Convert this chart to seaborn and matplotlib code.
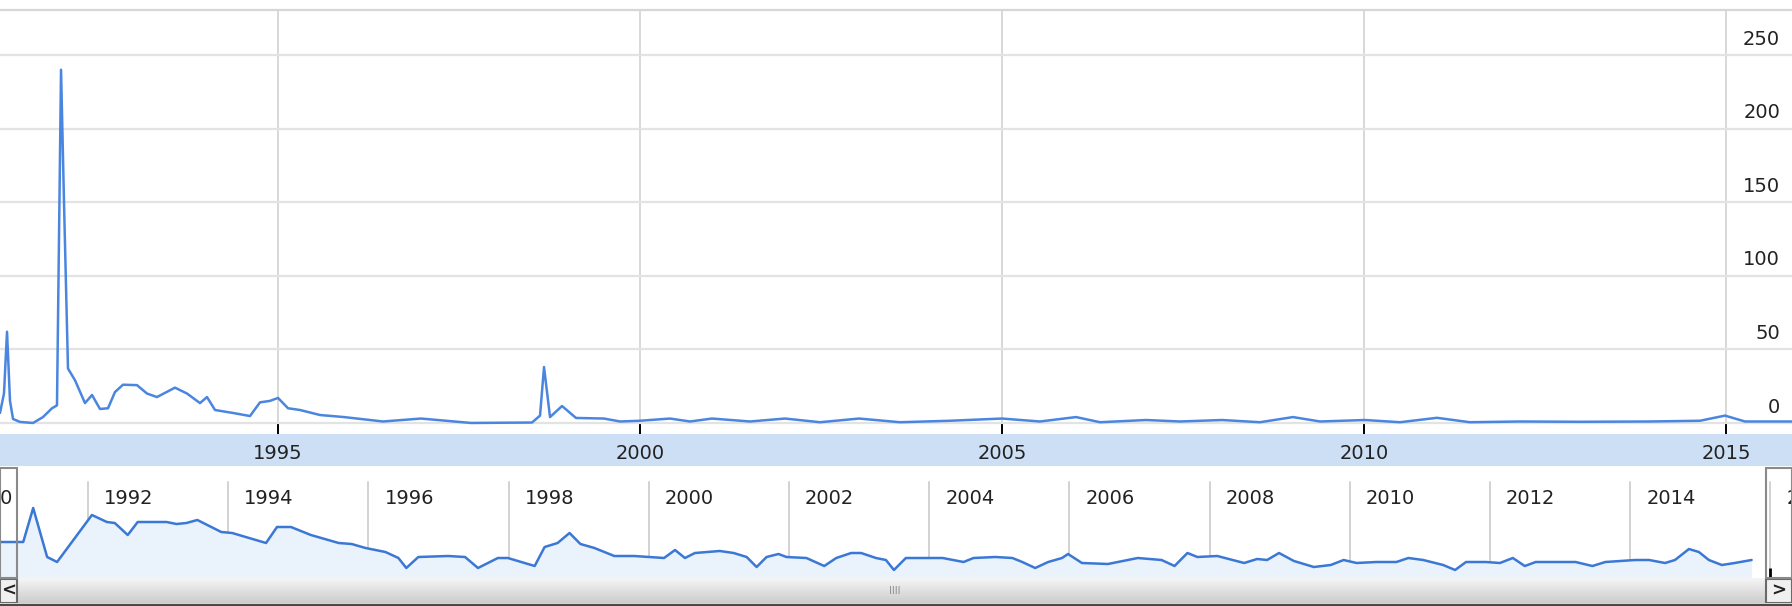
import numpy as np
import pandas as pd
import matplotlib
matplotlib.use("Agg")
import matplotlib.pyplot as plt
import seaborn as sns
from matplotlib.patches import Rectangle
from matplotlib.lines import Line2D

sns.set_theme(style="white")
plt.rcParams['font.family'] = ['DejaVu Sans']

# ---------------- data ----------------
main_years = [1991.160, 1991.215, 1991.257, 1991.298, 1991.340, 1991.436, 1991.616, 1991.754,
              1991.878, 1991.933, 1991.947, 1992.003, 1992.044, 1992.099, 1992.196, 1992.334,
              1992.431, 1992.541, 1992.652, 1992.748, 1992.859, 1993.052, 1993.190, 1993.328,
              1993.577, 1993.743, 1993.922, 1994.019, 1994.130, 1994.378, 1994.613, 1994.751,
              1994.889, 1995.000, 1995.138, 1995.304, 1995.580, 1995.912, 1996.450, 1996.975,
              1997.666, 1998.508, 1998.619, 1998.674, 1998.757, 1998.923, 1999.116, 1999.503,
              1999.724, 2000.000, 2000.414, 2000.691, 2000.994, 2001.519, 2002.003, 2002.486,
              2003.025, 2003.591, 2004.282, 2005.000, 2005.525, 2006.022, 2006.354, 2006.989,
              2007.459, 2008.039, 2008.564, 2009.019, 2009.392, 2010.014, 2010.497, 2011.008,
              2011.461, 2012.155, 2012.983, 2013.950, 2014.641, 2014.986, 2015.262, 2015.912]
main_values = [6.8, 20, 62, 15, 2.7, 0.7, 0, 4,
               10, 11.5, 12, 240, 150, 37, 29, 13.5,
               19, 9.5, 10, 21, 26, 25.7, 20, 17.6,
               24, 20, 13.5, 17.6, 8.8, 6.8, 4.7, 14,
               15, 17, 10, 8.8, 5.4, 4, 1, 3,
               0, 0.3, 5, 38, 4, 11.5, 3.4, 3,
               1, 1.5, 3, 1, 3, 1, 3, 0.5,
               3, 0.5, 1.5, 3, 1, 4, 0.5, 2,
               1, 2, 0.5, 4, 1, 2, 0.5, 3.5,
               0.5, 1, 0.8, 1, 1.5, 5, 1, 1]

nav_years = [1990.750, 1991.005, 1991.076, 1991.218, 1991.417, 1991.559, 1992.056, 1992.269,
             1992.382, 1992.567, 1992.709, 1993.120, 1993.262, 1993.404, 1993.560, 1993.901,
             1994.057, 1994.540, 1994.696, 1994.895, 1995.179, 1995.576, 1995.761, 1995.959,
             1996.243, 1996.428, 1996.541, 1996.712, 1997.137, 1997.379, 1997.563, 1997.847,
             1997.989, 1998.372, 1998.514, 1998.699, 1998.869, 1999.025, 1999.224, 1999.508,
             1999.792, 2000.218, 2000.374, 2000.516, 2000.658, 2001.013, 2001.211, 2001.396,
             2001.538, 2001.680, 2001.850, 2001.964, 2002.248, 2002.503, 2002.674, 2002.887,
             2003.028, 2003.241, 2003.383, 2003.497, 2003.667, 2003.951, 2004.192, 2004.490,
             2004.632, 2004.944, 2005.186, 2005.328, 2005.512, 2005.697, 2005.895, 2005.981,
             2006.179, 2006.549, 2006.975, 2007.315, 2007.500, 2007.684, 2007.826, 2008.110,
             2008.493, 2008.678, 2008.820, 2008.990, 2009.203, 2009.487, 2009.728, 2009.912,
             2010.097, 2010.381, 2010.665, 2010.835, 2011.048, 2011.332, 2011.502, 2011.658,
             2011.942, 2012.141, 2012.326, 2012.496, 2012.652, 2013.220, 2013.461, 2013.646,
             2014.072, 2014.270, 2014.497, 2014.639, 2014.838, 2014.980, 2015.122, 2015.307,
             2015.491, 2015.732]
nav_values = [36, 36, 36, 70, 21, 16, 63, 56,
              55, 43, 56, 56, 54, 55, 58, 46,
              45, 35, 51, 51, 43, 35, 34, 30,
              26, 20, 10, 21, 22, 21, 10, 20,
              20, 12, 31, 35, 45, 34, 30, 22,
              22, 20, 28, 20, 25, 27, 25, 21,
              11, 21, 24, 21, 20, 12, 20, 25,
              25, 20, 18, 8, 20, 20, 20, 16,
              20, 21, 20, 16, 10, 16, 20, 24,
              15, 14, 20, 18, 12, 25, 21, 22,
              15, 19, 18, 25, 17, 11, 13, 18,
              15, 16, 16, 20, 18, 13, 8, 16,
              16, 15, 20, 12, 16, 16, 12, 16,
              18, 18, 15, 18, 29, 26, 18, 13,
              15, 18]

main_ticks = [0, 50, 100, 150, 200, 250]
main_year_ticks = [1995, 2000, 2005, 2010, 2015]
nav_year_ticks = list(range(1990, 2018, 2))

main_df = pd.DataFrame({"year": main_years, "value": main_values})
nav_df = pd.DataFrame({"year": nav_years, "value": nav_values})

# ---------------- layout ----------------
W, H = 1792, 606
fig = plt.figure(figsize=(W / 100, H / 100), dpi=100)
fig.patch.set_facecolor("white")

def fy(px):  # pixel y from top -> figure fraction
    return 1 - px / H

LINE_BLUE = "#4a86e0"
NAV_BLUE = "#3b78d6"
GRID = "#e3e3e3"
VGRID = "#d2d2d2"
FS = 14

# band behind main x labels
fig.add_artist(Rectangle((0, fy(466)), 1, (466 - 434) / H, transform=fig.transFigure,
                         facecolor="#cddff5", edgecolor="none", zorder=-1))

# ---------------- main chart ----------------
ax = fig.add_axes([0, fy(434), 1, (434 - 10) / H])
sns.lineplot(data=main_df, x="year", y="value", ax=ax, color=LINE_BLUE, lw=1.8,
             estimator=None, zorder=3)
ax.set_xlabel("")
ax.set_ylabel("")
ax.set_yticks(main_ticks)
ax.set_yticklabels([])
ax.set_xticks(main_year_ticks)
ax.set_xticklabels([str(y) for y in main_year_ticks], fontsize=FS, color="#222222")
ax.set_xlim(1991.16, 1991.16 + W / 72.4)
ax.set_ylim(-7.5, 280.6)
ax.tick_params(axis="x", direction="in", length=8, width=1.4, color="black", pad=7,
               bottom=True)
ax.tick_params(axis="y", length=0)
ax.yaxis.grid(True, color=GRID, lw=1.6)
ax.xaxis.grid(True, color=VGRID, lw=1.2)
for s in ["left", "right", "bottom"]:
    ax.spines[s].set_visible(False)
ax.spines["top"].set_color("#d6d6d6")
ax.spines["top"].set_linewidth(1.6)
for v in main_ticks:
    ax.annotate(str(v), xy=(1780 / W, v), xycoords=("axes fraction", "data"),
                xytext=(0, 7.5), textcoords="offset points", ha="right", va="baseline",
                fontsize=FS, color="#222222")

# ---------------- navigator ----------------
NAV_PX_PER_YR = 70.1
NAV_X0 = 1992 - 88 / NAV_PX_PER_YR
nav = fig.add_axes([0, fy(578), 1, (578 - 466) / H])
nav.fill_between(nav_df["year"], nav_df["value"], 0, color="#eaf2fc", lw=0, zorder=1)
sns.lineplot(data=nav_df, x="year", y="value", ax=nav, color=NAV_BLUE, lw=1.8,
             estimator=None, zorder=3)
nav.set_xlabel("")
nav.set_ylabel("")
nav.set_yticks([])
nav.set_xticks(nav_year_ticks)
nav.set_xticklabels([])
nav.set_xlim(NAV_X0, NAV_X0 + W / NAV_PX_PER_YR)
nav.set_ylim(0, 112)
nav.tick_params(axis="x", direction="in", length=7.5, width=2, color="black", bottom=True)
for yr in nav_year_ticks:
    nav.axvline(yr, ymin=0, ymax=(578 - 482) / 112, color=VGRID, lw=1.4, zorder=0)
    nav.text(yr + 16 / NAV_PX_PER_YR, 578 - 499, str(yr), ha="left", va="center",
             fontsize=FS, color="#222222", zorder=4)
for s in nav.spines.values():
    s.set_visible(False)
nav.set_facecolor("white")

# boxes outside the selected range
for x0, x1 in [(0, 17), (1766, W)]:
    fig.add_artist(Rectangle((x0 / W, fy(578)), (x1 - x0) / W, (578 - 468) / H,
                             transform=fig.transFigure, facecolor="none",
                             edgecolor="#8a8a8a", lw=1.5, zorder=5))

# ---------------- scrollbar ----------------
sb = fig.add_axes([0, fy(603), 1, (603 - 578) / H])
grad = np.linspace(0.96, 0.80, 32).reshape(-1, 1)
sb.imshow(grad, aspect="auto", cmap="gray", vmin=0, vmax=1, extent=(0, 1, 0, 1))
sb.set_xlim(0, 1)
sb.set_ylim(0, 1)
sb.set_xticks([])
sb.set_yticks([])
for s in sb.spines.values():
    s.set_visible(False)
sb.text(895 / W, 0.5, "IIII", ha="center", va="center", fontsize=7, color="#8c8c8c")
for x0, x1, glyph in [(0, 17, "<"), (1766, W, ">")]:
    sb.add_patch(Rectangle((x0 / W, 0.02), (x1 - x0) / W, 0.96, facecolor="#f0f0f0",
                           edgecolor="#6a6a6a", lw=1.5, zorder=2))
    sb.text((x0 + x1) / 2 / W, 0.48, glyph, ha="center", va="center", fontsize=13,
            fontweight="bold", color="#222222", zorder=3)
fig.add_artist(Line2D([0, 1], [fy(604.5), fy(604.5)], transform=fig.transFigure,
                      color="#4a4a4a", lw=2.5, zorder=6))

fig.savefig("out.png", dpi=100, facecolor="white")
